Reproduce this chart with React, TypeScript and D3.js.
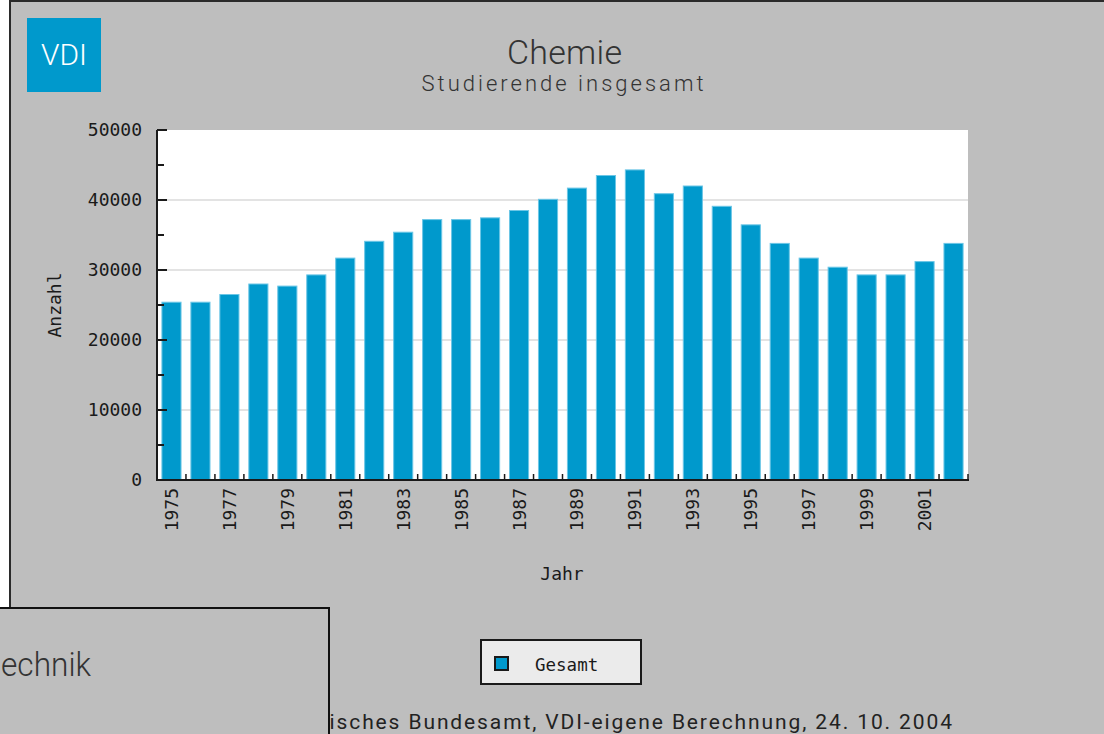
import React from 'react';
import * as d3 from 'd3';

const years = [
  '1975', '1976', '1977', '1978', '1979', '1980', '1981', '1982', '1983', '1984',
  '1985', '1986', '1987', '1988', '1989', '1990', '1991', '1992', '1993', '1994',
  '1995', '1996', '1997', '1998', '1999', '2000', '2001', '2002',
];
const gesamt = [
  25400, 25400, 26500, 28000, 27700, 29300, 31700, 34100, 35400, 37200,
  37200, 37450, 38500, 40100, 41700, 43500, 44300, 40900, 42000, 39100,
  36450, 33800, 31700, 30400, 29300, 29300, 31200, 33800,
];
const yTicks = [0, 10000, 20000, 30000, 40000, 50000];
const yMinorTicks = [5000, 15000, 25000, 35000, 45000];
const gridValues = [10000, 20000, 30000, 40000];

const title = 'Chemie';
const subtitle = 'Studierende insgesamt';
const footer = 'Quelle: Statistisches Bundesamt, VDI-eigene Berechnung, 24. 10. 2004';
// only the tail of the covering window's title is on screen
const otherWindowTitle = 'echnik';

const W = 1104;
const H = 734;
const plot = { left: 157, right: 968, top: 130, bottom: 480 };

const BAR = '#0099cc';
const BG = '#bebebe';
const INK = '#1a1a1a';
const MONO = '"DejaVu Sans Mono", monospace';
const TITLE_FONT = 'Roboto, "DejaVu Sans", sans-serif';

export default function App() {
  const x = d3.scaleBand<string>()
    .domain(years)
    .range([plot.left, plot.right])
    .paddingInner(0.34)
    .paddingOuter(0.17);
  const y = d3.scaleLinear().domain([0, 50000]).range([plot.bottom, plot.top]);

  const step = x.step();
  const bandEdges = d3.range(1, years.length + 1).map(i => plot.left + i * step);

  return (
    <svg width={W} height={H} style={{ position: 'absolute', left: 0, top: 0, display: 'block' }}>
      <rect x={0} y={0} width={W} height={H} fill="#ffffff" />
      {/* main window */}
      <rect x={10} y={1} width={W + 50} height={H + 50} fill={BG} stroke="#2a2a2a" strokeWidth={2} />

      {/* logo */}
      <rect x={27} y={18} width={74} height={74} fill={BAR} />
      <text x={64} y={65} textAnchor="middle" fill="#ffffff" fontFamily={TITLE_FONT}
        fontWeight={300} fontSize={29} textLength={46} lengthAdjust="spacingAndGlyphs">VDI</text>

      {/* titles */}
      <text x={564.5} y={64} textAnchor="middle" fill="#333" fontFamily={TITLE_FONT}
        fontWeight={300} fontSize={34} textLength={115} lengthAdjust="spacing">{title}</text>
      <text x={562.5} y={91} textAnchor="middle" fill="#333" fontFamily={TITLE_FONT}
        fontWeight={300} fontSize={22} textLength={282} lengthAdjust="spacing">{subtitle}</text>

      {/* plot area */}
      <rect x={plot.left} y={plot.top} width={plot.right - plot.left} height={plot.bottom - plot.top} fill="#ffffff" />
      {gridValues.map(v => (
        <line key={v} x1={plot.left} x2={plot.right} y1={y(v)} y2={y(v)} stroke="#e3e3e3" strokeWidth={2} />
      ))}
      {years.map((yr, i) => (
        <rect key={yr} x={x(yr)} y={y(gesamt[i])} width={x.bandwidth()} height={y(0) - y(gesamt[i])}
          fill={BAR} stroke="#6cc6e6" strokeWidth={1} />
      ))}

      {/* axes */}
      <line x1={plot.left} x2={plot.left} y1={plot.top} y2={plot.bottom + 1} stroke={INK} strokeWidth={2} />
      <line x1={plot.left - 1} x2={plot.right + 1} y1={plot.bottom} y2={plot.bottom} stroke={INK} strokeWidth={2} />
      {yTicks.map(v => (
        <line key={v} x1={plot.left} x2={plot.left + 10} y1={y(v)} y2={y(v)} stroke={INK} strokeWidth={2} />
      ))}
      {yMinorTicks.map(v => (
        <line key={v} x1={plot.left} x2={plot.left + 7} y1={y(v)} y2={y(v)} stroke={INK} strokeWidth={2} />
      ))}
      {bandEdges.map((bx, i) => (
        <line key={i} x1={bx} x2={bx} y1={plot.bottom} y2={plot.bottom - 6} stroke={INK} strokeWidth={1.5} />
      ))}

      {/* y labels */}
      {yTicks.map(v => (
        <text key={v} x={142} y={y(v)} dy="0.36em" textAnchor="end" fill={INK}
          fontFamily={MONO} fontSize={18}>{v}</text>
      ))}
      <text transform={`translate(55,305) rotate(-90)`} dy="0.36em" textAnchor="middle" fill={INK}
        fontFamily={MONO} fontSize={18}>Anzahl</text>

      {/* x labels */}
      {years.filter((_, i) => i % 2 === 0).map(yr => (
        <text key={yr} transform={`translate(${(x(yr) ?? 0) + x.bandwidth() / 2},488) rotate(-90)`}
          dy="0.36em" textAnchor="end" fill={INK} fontFamily={MONO} fontSize={18}>{yr}</text>
      ))}
      <text x={562} y={580} textAnchor="middle" fill={INK} fontFamily={MONO} fontSize={18}>Jahr</text>

      {/* legend */}
      <rect x={481} y={640} width={160} height={44} fill="#ebebeb" stroke={INK} strokeWidth={2} />
      <rect x={495} y={657} width={13} height={13} fill={BAR} stroke={INK} strokeWidth={2} />
      <text x={535} y={671} fill={INK} fontFamily={MONO} fontSize={17.5}>Gesamt</text>

      {/* footer */}
      <text x={952} y={729} textAnchor="end" fill="#222" fontFamily={TITLE_FONT}
        fontSize={21} textLength={780} lengthAdjust="spacing">{footer}</text>

      {/* overlapping second window */}
      <rect x={-4} y={608} width={333} height={200} fill={BG} stroke="#111" strokeWidth={2} />
      <text x={1} y={676} fill="#333" fontFamily={TITLE_FONT}
        fontWeight={300} fontSize={34} textLength={90} lengthAdjust="spacingAndGlyphs">{otherWindowTitle}</text>
    </svg>
  );
}
